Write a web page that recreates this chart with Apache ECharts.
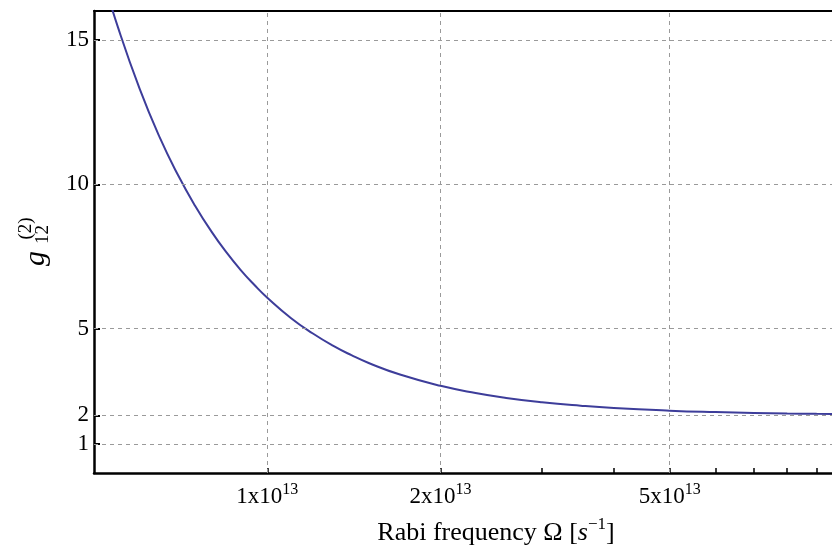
<!DOCTYPE html>
<html>
<head>
<meta charset="utf-8">
<script src="https://cdn.jsdelivr.net/npm/echarts@6/dist/echarts.min.js"></script>
<style>
html, body { margin: 0; padding: 0; background: #fff; }
#grafico { width: 832px; height: 557px; }
</style>
</head>
<body>
<div id="grafico"></div>
<script>
// Rabi frequency (s^-1) and g12(2)
var omega = [0.52e13, 0.55e13, 0.6e13, 0.65e13, 0.7e13, 0.75e13, 0.8e13, 0.85e13, 0.9e13, 0.95e13,
    1.0e13, 1.1e13, 1.2e13, 1.3e13, 1.4e13, 1.5e13, 1.7e13, 2.0e13, 2.3e13, 2.6e13,
    3.0e13, 3.5e13, 4.0e13, 5.0e13, 6.0e13, 7.0e13, 8.0e13, 9.0e13, 1.0e14];
var g12 = [17.05, 15.45, 13.31, 11.63, 10.31, 9.24, 8.36, 7.63, 7.02, 6.51,
    6.07, 5.36, 4.83, 4.41, 4.08, 3.81, 3.41, 3.02, 2.77, 2.60,
    2.45, 2.33, 2.25, 2.16, 2.11, 2.08, 2.06, 2.05, 2.04];

var xTicks = [1e13, 2e13, 3e13, 4e13, 5e13, 6e13, 7e13, 8e13, 9e13];
var xLabels = [1e13, 2e13, 5e13];
var xGrid = [1e13, 2e13, 5e13];
var yTicks = [1, 2, 5, 10, 15];

var serif = '"Liberation Serif", "DejaVu Serif", serif';
var xMin = 5e12, xMax = 9.57e13;

var pontos = [];
omega.forEach(function (w, i) {
    pontos.push([w, g12[i]]);
});

var linhasGrade = [];
xGrid.forEach(function (v) { linhasGrade.push({ xAxis: v }); });
yTicks.forEach(function (v) { linhasGrade.push({ yAxis: v }); });

var myChart = echarts.init(document.getElementById('grafico'));

var option = {
    animation: false,
    backgroundColor: '#fff',
    grid: { left: 94, top: 11, right: 0, height: 462 },
    xAxis: [{
        type: 'log',
        logBase: 10,
        min: xMin,
        max: xMax,
        name: '{n|Rabi frequency Ω [}{i|s}{p|−1}{n|]}',
        nameLocation: 'middle',
        nameGap: 43,
        nameTextStyle: {
            padding: [0, 0, 0, 66],
            rich: {
                n: { fontFamily: serif, fontSize: 26, color: '#000', lineHeight: 34 },
                i: { fontFamily: serif, fontSize: 26, fontStyle: 'italic', color: '#000', lineHeight: 34 },
                p: { fontFamily: serif, fontSize: 17, color: '#000', lineHeight: 17, verticalAlign: 'top' }
            }
        },
        axisLine: { show: true, lineStyle: { color: '#000', width: 2.5 } },
        axisTick: { show: true, inside: true, length: 5, customValues: xTicks, lineStyle: { color: '#000', width: 1.5 } },
        axisLabel: {
            customValues: xLabels,
            margin: 9,
            formatter: function (v) {
                return '{a|' + Math.round(v / 1e13) + 'x10}{s|13}';
            },
            rich: {
                a: { fontFamily: serif, fontSize: 23, color: '#000', lineHeight: 30 },
                s: { fontFamily: serif, fontSize: 16, color: '#000', lineHeight: 16, verticalAlign: 'top' }
            }
        },
        splitLine: { show: false },
        minorTick: { show: false }
    }, {
        // top frame line
        type: 'log',
        logBase: 10,
        position: 'top',
        min: xMin,
        max: xMax,
        axisLine: { show: true, lineStyle: { color: '#000', width: 2 } },
        axisTick: { show: false },
        axisLabel: { show: false },
        splitLine: { show: false }
    }],
    yAxis: {
        type: 'value',
        min: 0,
        max: 16,
        axisLine: { show: true, lineStyle: { color: '#000', width: 2.5 } },
        axisTick: { show: true, inside: true, length: 6, customValues: yTicks, lineStyle: { color: '#000', width: 2 } },
        axisLabel: {
            customValues: yTicks,
            margin: 5,
            fontFamily: serif,
            fontSize: 23,
            color: '#000'
        },
        splitLine: { show: false }
    },
    graphic: [{
        type: 'group',
        x: 36,
        y: 258.5,
        rotation: Math.PI / 2,
        children: [
            { type: 'text', x: 0, y: 0, style: { text: 'g', font: 'italic 30px ' + serif, fill: '#000', align: 'center', verticalAlign: 'middle', textAlign: 'center', textVerticalAlign: 'middle' } },
            { type: 'text', x: 30, y: -10, style: { text: '(2)', font: '19px ' + serif, fill: '#000', align: 'center', verticalAlign: 'middle', textAlign: 'center', textVerticalAlign: 'middle' } },
            { type: 'text', x: 24, y: 7, style: { text: '12', font: '19px ' + serif, fill: '#000', align: 'center', verticalAlign: 'middle', textAlign: 'center', textVerticalAlign: 'middle' } }
        ]
    }],
    series: [{
        type: 'line',
        xAxisIndex: 0,
        data: pontos,
        showSymbol: false,
        smooth: true,
        clip: true,
        lineStyle: { color: '#3d3d9a', width: 2 },
        markLine: {
            silent: true,
            symbol: 'none',
            label: { show: false },
            lineStyle: { color: '#9a9a9a', type: [4, 4], width: 1 },
            data: linhasGrade
        }
    }]
};

myChart.setOption(option);
</script>
</body>
</html>
